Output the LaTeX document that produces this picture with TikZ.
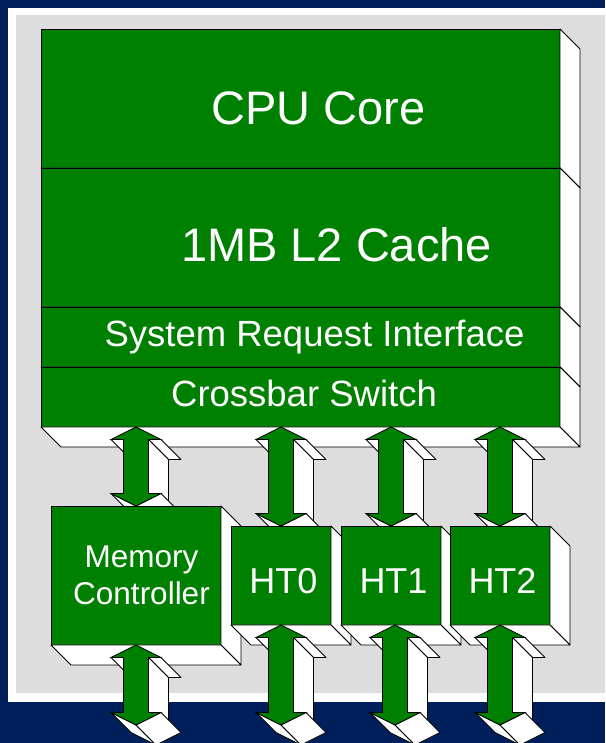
\documentclass[tikz,border=0pt]{standalone}
\usepackage{fontspec}
\setmainfont{Liberation Sans}
\usetikzlibrary{calc}
\definecolor{navy}{RGB}{0,31,91}
\definecolor{boxgreen}{RGB}{0,128,0}
\definecolor{panelgray}{RGB}{221,221,221}
\tikzset{
  box/.style={draw=black, line width=0.8pt, fill=boxgreen, inner sep=0pt, outer sep=0pt},
  face/.style={fill=white, draw=black, line width=0.8pt, line join=round},
  arrowface/.style={fill=boxgreen, draw=black, line width=0.8pt, line join=miter},
  lbl/.style={text=white, inner sep=0pt, outer sep=0pt, anchor=base}
}
\newcommand\extrude[1]{%
  \filldraw[face] (#1.north east) -- ++(20,-20) -- ($(#1.south east)+(20,-20)$) -- (#1.south east) -- cycle;
  \filldraw[face] (#1.south west) -- (#1.south east) -- ++(20,-20) -- ($(#1.south west)+(20,-20)$) -- cycle;
}
\newcommand\dblarrow[2]{%
  \coordinate (arT) at #1;
  \coordinate (arB) at #2;
  \filldraw[face] ($(arT)+(-25,-12.5)$) -- ($(arT)+(-12.5,-12.5)$) -- ($(arT)+(7.5,-32.5)$) -- ($(arT)+(-5,-32.5)$) -- cycle;
  \filldraw[face] ($(arT)+(12.5,-12.5)$) -- ($(arT)+(25,-12.5)$) -- ($(arT)+(45,-32.5)$) -- ($(arT)+(32.5,-32.5)$) -- cycle;
  \filldraw[face] ($(arT)+(12.5,-12.5)$) -- ($(arB)+(12.5,12.5)$) -- ($(arB)+(32.5,-7.5)$) -- ($(arT)+(32.5,-32.5)$) -- cycle;
  \filldraw[face] ($(arB)+(-25,12.5)$) -- (arB) -- ($(arB)+(20,-20)$) -- ($(arB)+(-5,-7.5)$) -- cycle;
  \filldraw[face] (arB) -- ($(arB)+(25,12.5)$) -- ($(arB)+(45,-7.5)$) -- ($(arB)+(20,-20)$) -- cycle;
  \filldraw[arrowface] (arT) -- ($(arT)+(25,-12.5)$) -- ($(arT)+(12.5,-12.5)$) -- ($(arB)+(12.5,12.5)$) -- ($(arB)+(25,12.5)$) -- (arB) -- ($(arB)+(-25,12.5)$) -- ($(arB)+(-12.5,12.5)$) -- ($(arT)+(-12.5,-12.5)$) -- ($(arT)+(-25,-12.5)$) -- cycle;
}
\begin{document}
\begin{tikzpicture}[x=1pt,y=1pt]
\clip (0,0) rectangle (605,743);
\useasboundingbox (0,0) rectangle (605,743);
% background frame
\fill[navy] (0,0) rectangle (605,743);
\fill[white] (8,41) rectangle (605,735);
\fill[panelgray] (16,50) rectangle (605,728);

% main block
\node[box, minimum width=519pt, minimum height=139pt] (cpu) at (300.5,644.5) {};
\extrude{cpu}
\node[box, minimum width=519pt, minimum height=139pt] (l2) at (300.5,505.5) {};
\extrude{l2}
\node[box, minimum width=519pt, minimum height=60pt] (sri) at (300.5,406) {};
\extrude{sri}
\node[box, minimum width=519pt, minimum height=60pt] (xbar) at (300.5,346) {};
\extrude{xbar}

\node[lbl, font=\fontsize{47}{47}\selectfont] (cpulbl) at (318.5,618) {CPU Core};
\node[lbl, font=\fontsize{47}{47}\selectfont] (l2lbl) at (336.5,481) {1MB L2 Cache};
\node[lbl, font=\fontsize{36.5}{36.5}\selectfont] (srilbl) at (314.5,396) {System Request Interface};
\node[lbl, font=\fontsize{36.5}{36.5}\selectfont] (xbarlbl) at (304,336) {Crossbar Switch};

% lower boxes (positions only, drawn after the upper arrows)
\path (136,167.5) coordinate (mcpos) (281,167.5) coordinate (ht0pos)
      (391,167.5) coordinate (ht1pos) (500,167.5) coordinate (ht2pos);

% upper arrows
\dblarrow{($(mcpos |- xbar.south)$)}{(136,237)}
\dblarrow{($(ht0pos |- xbar.south)$)}{(281,217)}
\dblarrow{($(ht1pos |- xbar.south)$)}{(391,217)}
\dblarrow{($(ht2pos |- xbar.south)$)}{(500,217)}

% lower boxes
\node[box, minimum width=170pt, minimum height=139pt] (mc) at (mcpos) {};
\extrude{mc}
\node[lbl, font=\fontsize{31.5}{31.5}\selectfont] (mclbl1) at (141.5,175) {Memory};
\node[lbl, font=\fontsize{31.5}{31.5}\selectfont] (mclbl2) at (141.5,138) {Controller};
\node[box, minimum width=100pt, minimum height=99pt] (ht0) at (ht0pos) {};
\extrude{ht0}
\node[lbl, font=\fontsize{36}{36}\selectfont] (ht0lbl) at (283.5,149) {HT0};
\node[box, minimum width=100pt, minimum height=99pt] (ht1) at (ht1pos) {};
\extrude{ht1}
\node[lbl, font=\fontsize{36}{36}\selectfont] (ht1lbl) at (393.5,149) {HT1};
\node[box, minimum width=100pt, minimum height=99pt] (ht2) at (ht2pos) {};
\extrude{ht2}
\node[lbl, font=\fontsize{36}{36}\selectfont] (ht2lbl) at (502.5,149) {HT2};

% lower arrows
\dblarrow{(mc.south)}{($(mc.south)+(0,-80)$)}
\dblarrow{(ht0.south)}{($(ht0.south)+(0,-100)$)}
\dblarrow{($(ht1.south)+(4,0)$)}{($(ht1.south)+(4,-100)$)}
\dblarrow{(ht2.south)}{($(ht2.south)+(0,-100)$)}
\end{tikzpicture}
\end{document}
